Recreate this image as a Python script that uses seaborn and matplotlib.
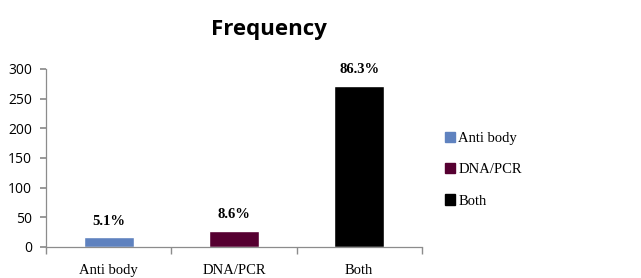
import matplotlib
matplotlib.use('Agg')
import matplotlib.pyplot as plt
import seaborn as sns
import pandas as pd

categories = ['Anti body', 'DNA/PCR', 'Both']
counts = [16, 27, 271]
percent_labels = ['5.1%', '8.6%', '86.3%']
bar_colors = ['#5F82BF', '#560031', '#000000']

df = pd.DataFrame({'Method': categories, 'Count': counts})

sns.set_theme(style='white')
plt.rcParams['font.family'] = ['Open Sans', 'DejaVu Sans']
plt.rcParams['text.color'] = 'black'
plt.rcParams['xtick.labelcolor'] = 'black'
plt.rcParams['ytick.labelcolor'] = 'black'

fig = plt.figure(figsize=(6.41, 2.78), dpi=100)
ax = fig.add_axes([0.072, 0.112, 0.586, 0.640])

sns.barplot(data=df, x='Method', y='Count', hue='Method', palette=bar_colors,
            width=0.4, dodge=False, legend=False, ax=ax, saturation=1)

ax.set_xlim(-0.5, 2.5)
ax.set_ylim(0, 300)
ax.set_yticks([0, 50, 100, 150, 200, 250, 300])
ax.set_xlabel('')
ax.set_ylabel('')

for s in ['top', 'right']:
    ax.spines[s].set_visible(False)
for s in ['left', 'bottom']:
    ax.spines[s].set_color('#8c8c8c')
    ax.spines[s].set_linewidth(0.9)

ax.tick_params(axis='y', left=True, length=4, color='#8c8c8c', labelsize=10,
               pad=6, labelcolor='black')
ax.tick_params(axis='x', bottom=False, labelsize=10.5, pad=6, labelcolor='black')
for lbl in ax.get_xticklabels():
    lbl.set_fontfamily('Liberation Serif')
ax.set_xticks([-0.5, 0.5, 1.5, 2.5], minor=True)
ax.tick_params(axis='x', which='minor', bottom=True, length=5, color='#8c8c8c')

for i, (c, p) in enumerate(zip(counts, percent_labels)):
    ax.annotate(p, (i, c), xytext=(0, 7), textcoords='offset points',
                ha='center', va='bottom', fontsize=10.5, fontweight='bold',
                family='Liberation Serif', color='black')

fig.text(0.419, 0.895, 'Frequency', ha='center', va='center',
         fontsize=16, fontweight='bold', color='black')

handles = [plt.Rectangle((0, 0), 1, 1, color=c) for c in bar_colors]
leg = fig.legend(handles, categories, loc='center left', bbox_to_anchor=(0.674, 0.39),
                 frameon=False, handlelength=0.7, handleheight=0.7, handletextpad=0.2,
                 labelspacing=1.25, prop={'family': 'Liberation Serif', 'size': 10.5})
for t in leg.get_texts():
    t.set_color('black')

plt.savefig('out.png', dpi=100)
plt.close(fig)
